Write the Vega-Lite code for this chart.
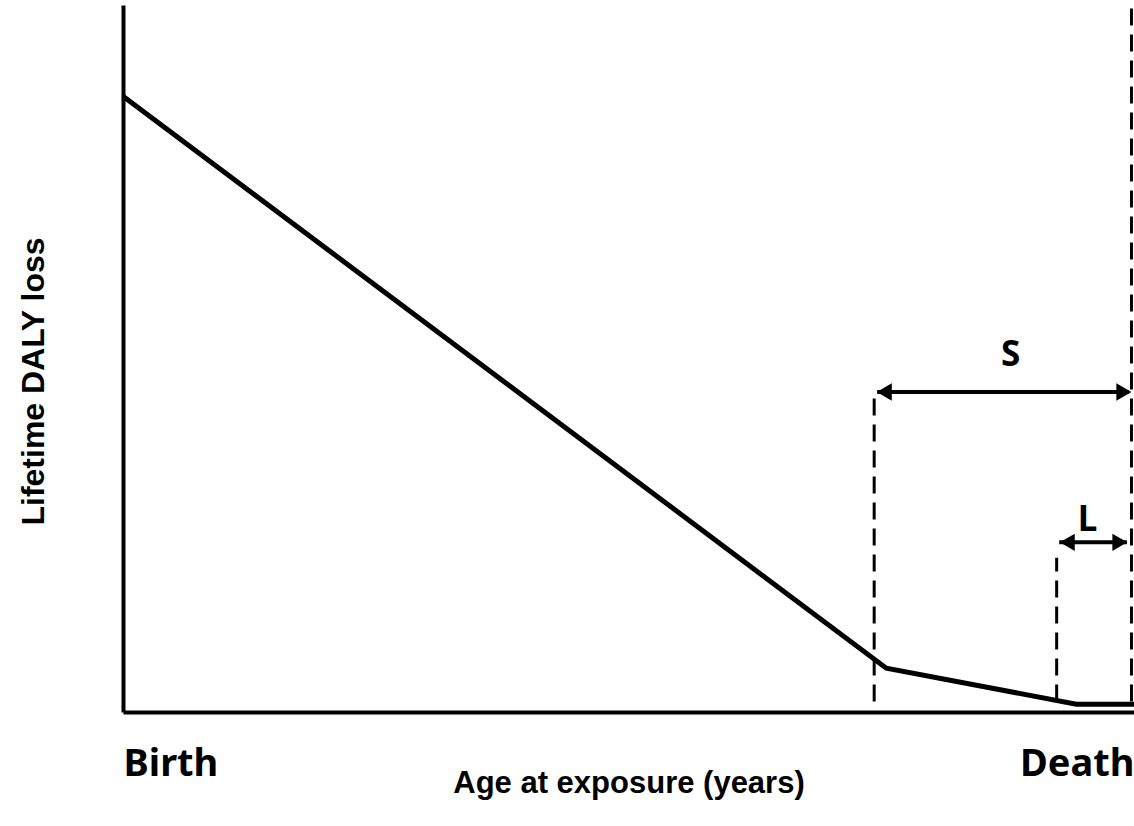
{
  "$schema": "https://vega.github.io/schema/vega-lite/v6.json",
  "width": 1011,
  "height": 707,
  "autosize": "none",
  "padding": {"left": 123, "top": 5, "right": 0, "bottom": 114},
  "background": "white",
  "config": {"view": {"stroke": null}},
  "datasets": {
    "curve": [
      {"x": 0, "y": 87.1},
      {"x": 75.5, "y": 6.2},
      {"x": 94.3, "y": 1.1},
      {"x": 100, "y": 1.1}
    ],
    "dashes": [
      {"x": 74.3, "y": 1.5, "y2": 45.3},
      {"x": 92.35, "y": 1.5, "y2": 21.8},
      {"x": 99.75, "y": 1.5, "y2": 100.7}
    ],
    "arrows": [
      {"name": "S", "x": 74.6, "x2": 99.5, "y": 45.26},
      {"name": "L", "x": 92.6, "x2": 99.3, "y": 24.0}
    ],
    "heads": [
      {"x": 75.3, "y": 45.26, "dir": "triangle-left"},
      {"x": 99.0, "y": 45.26, "dir": "triangle-right"},
      {"x": 93.4, "y": 24.0, "dir": "triangle-left"},
      {"x": 98.6, "y": 24.0, "dir": "triangle-right"}
    ],
    "labels": [
      {"text": "S", "x": 87.8, "y": 50.5},
      {"text": "L", "x": 95.4, "y": 27.2}
    ]
  },
  "encoding": {
    "x": {
      "field": "x",
      "type": "quantitative",
      "scale": {"domain": [0, 100], "nice": false, "zero": false},
      "axis": {
        "title": "Age at exposure (years)",
        "values": [0, 100],
        "labelExpr": "datum.value == 0 ? 'Birth' : 'Death'",
        "labelAlign": {"condition": {"test": "datum.value == 0", "value": "left"}, "value": "right"},
        "labelFont": "Noto Sans",
        "labelFontWeight": "bold",
        "labelFontSize": 38,
        "labelColor": "black",
        "labelBaseline": "top",
        "labelPadding": 33,
        "labelFlush": false,
        "labelOverlap": false,
        "labelBound": false,
        "ticks": false,
        "grid": false,
        "domainColor": "black",
        "domainWidth": 4,
        "titleFont": "Liberation Sans",
        "titleFontWeight": "bold",
        "titleFontSize": 31,
        "titleColor": "black",
        "titleBaseline": "middle",
        "titleY": 71
      }
    },
    "y": {
      "field": "y",
      "type": "quantitative",
      "scale": {"domain": [0, 100], "nice": false, "zero": false},
      "axis": {
        "title": "Lifetime DALY loss",
        "labels": false,
        "ticks": false,
        "grid": false,
        "domainColor": "black",
        "domainWidth": 4,
        "titleFont": "Liberation Sans",
        "titleFontWeight": "bold",
        "titleFontSize": 32,
        "titleColor": "black",
        "titleAngle": -90,
        "titleBaseline": "middle",
        "titleAlign": "center",
        "titleX": -90,
        "titleY": 376
      }
    }
  },
  "layer": [
    {
      "data": {"name": "curve"},
      "mark": {"type": "line", "color": "black", "strokeWidth": 5, "clip": false}
    },
    {
      "data": {"name": "dashes"},
      "mark": {"type": "rule", "color": "black", "strokeWidth": 3, "strokeDash": [17, 9], "clip": false},
      "encoding": {"y2": {"field": "y2"}}
    },
    {
      "data": {"name": "arrows"},
      "mark": {"type": "rule", "color": "black", "strokeWidth": 4, "clip": false},
      "encoding": {"x2": {"field": "x2"}}
    },
    {
      "data": {"name": "heads"},
      "mark": {"type": "point", "filled": true, "color": "black", "opacity": 1, "size": 300, "clip": false},
      "encoding": {"shape": {"field": "dir", "type": "nominal", "scale": null}}
    },
    {
      "data": {"name": "labels"},
      "mark": {"type": "text", "font": "Noto Sans", "fontWeight": "bold", "fontSize": 35, "color": "black", "baseline": "middle", "align": "center"},
      "encoding": {"text": {"field": "text"}}
    }
  ]
}
